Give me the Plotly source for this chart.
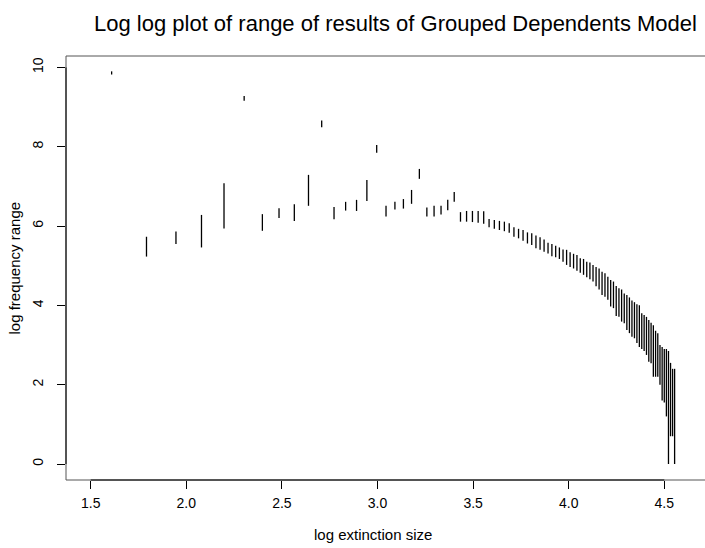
import numpy as np
import plotly.graph_objects as go

# extinction sizes and the min / max of log frequency seen for each size
sizes = list(range(5, 96))
freq_lo = [9.82, 5.23, 5.55, 5.46, 5.94, 9.16, 5.88, 6.20, 6.13, 6.51,
           8.49, 6.17, 6.39, 6.38, 6.63, 7.85, 6.24, 6.42, 6.44, 6.56,
           7.19, 6.24, 6.24, 6.29, 6.40, 6.61, 6.11, 6.11, 6.10, 6.08,
           6.06, 5.97, 5.93, 5.90, 5.87, 5.83, 5.73, 5.69, 5.63, 5.56,
           5.52, 5.44, 5.40, 5.35, 5.31, 5.24, 5.21, 5.17, 5.10, 5.02,
           4.97, 4.93, 4.87, 4.82, 4.77, 4.71, 4.66, 4.60, 4.48, 4.40,
           4.26, 4.22, 4.14, 3.97, 3.93, 3.73, 3.71, 3.59, 3.55, 3.38,
           3.30, 3.21, 3.17, 3.05, 2.95, 2.90, 2.85, 2.75, 2.58, 2.54,
           2.20, 2.20, 2.20, 2.00, 1.60, 1.55, 1.20, 0.00, 0.70, 0.70,
           0.00]
freq_hi = [9.90, 5.73, 5.86, 6.28, 7.08, 9.28, 6.30, 6.45, 6.55, 7.29,
           8.66, 6.48, 6.61, 6.66, 7.16, 8.04, 6.51, 6.61, 6.68, 6.91,
           7.44, 6.47, 6.51, 6.51, 6.66, 6.86, 6.35, 6.38, 6.38, 6.38,
           6.37, 6.18, 6.15, 6.13, 6.11, 6.07, 5.97, 5.93, 5.90, 5.84,
           5.82, 5.76, 5.72, 5.66, 5.58, 5.55, 5.50, 5.46, 5.41, 5.40,
           5.34, 5.30, 5.27, 5.19, 5.17, 5.10, 5.08, 5.02, 4.97, 4.93,
           4.85, 4.81, 4.72, 4.64, 4.60, 4.49, 4.43, 4.40, 4.30, 4.26,
           4.20, 4.12, 4.08, 4.03, 4.00, 3.80, 3.76, 3.71, 3.63, 3.56,
           3.50, 3.36, 3.30, 3.00, 2.95, 2.90, 2.90, 2.85, 2.55, 2.40,
           2.40]

x_ticks = [1.5, 2.0, 2.5, 3.0, 3.5, 4.0, 4.5]
y_ticks = [0, 2, 4, 6, 8, 10]

log_size = np.log(np.array(sizes, dtype=float))

# one vertical segment per size, separated by None gaps
seg_x, seg_y = [], []
for xv, lo, hi in zip(log_size, freq_lo, freq_hi):
    seg_x += [xv, xv, None]
    seg_y += [lo, hi, None]

FONT = "Liberation Sans, Arial, Helvetica, sans-serif"

fig = go.Figure()
fig.add_trace(go.Scatter(x=seg_x, y=seg_y, mode="lines",
                         line=dict(color="black", width=1.3),
                         hoverinfo="skip", showlegend=False))

x_range = [1.3708, 4.7128]
y_range = [-0.403, 10.287]

fig.update_layout(
    width=705, height=548,
    margin=dict(l=66, r=0, t=56, b=68),
    paper_bgcolor="white", plot_bgcolor="white",
    font=dict(family=FONT, color="black", size=14),
    xaxis=dict(range=x_range, tickmode="array", tickvals=x_ticks,
               ticktext=["%.1f" % t for t in x_ticks],
               showgrid=False, zeroline=False, showline=False,
               ticks="outside", ticklen=8, tickcolor="black", tickwidth=1,
               ticklabelstandoff=2,
               tickfont=dict(size=14), fixedrange=True),
    yaxis=dict(range=y_range, tickmode="array", tickvals=y_ticks,
               ticktext=[str(t) for t in y_ticks],
               showgrid=False, zeroline=False, showline=False,
               ticks="outside", ticklen=8, tickcolor="black", tickwidth=1,
               ticklabelstandoff=8,
               tickangle=-90, tickfont=dict(size=14), fixedrange=True),
    annotations=[
        dict(text="Log log plot of range of results of Grouped Dependents Model",
             xref="paper", yref="paper", x=0.515, y=1.0, yshift=18,
             xanchor="center", yanchor="bottom", showarrow=False,
             font=dict(size=22)),
        dict(text="log extinction size", xref="paper", yref="paper",
             x=0.48, y=0, yshift=-44, xanchor="center", yanchor="top",
             showarrow=False, font=dict(size=15)),
        dict(text="log frequency range", xref="paper", yref="paper",
             x=0, xshift=-42, y=0.5, xanchor="right", yanchor="middle",
             textangle=-90, showarrow=False, font=dict(size=15)),
    ],
    shapes=[
        # plot frame (open on the right side)
        dict(type="line", xref="paper", yref="paper", x0=0, x1=0, y0=0, y1=1,
             line=dict(color="#555555", width=1)),
        dict(type="line", xref="paper", yref="paper", x0=0, x1=1, y0=0, y1=0,
             line=dict(color="#555555", width=1)),
        dict(type="line", xref="paper", yref="paper", x0=0, x1=1, y0=1, y1=1,
             line=dict(color="#555555", width=1)),
        # axis lines spanning the tick range
        dict(type="line", xref="x", yref="paper", x0=x_ticks[0], x1=x_ticks[-1],
             y0=0, y1=0, line=dict(color="black", width=1)),
        dict(type="line", xref="paper", yref="y", x0=0, x1=0,
             y0=y_ticks[0], y1=y_ticks[-1], line=dict(color="black", width=1)),
    ],
)

fig.write_html("out.html")
